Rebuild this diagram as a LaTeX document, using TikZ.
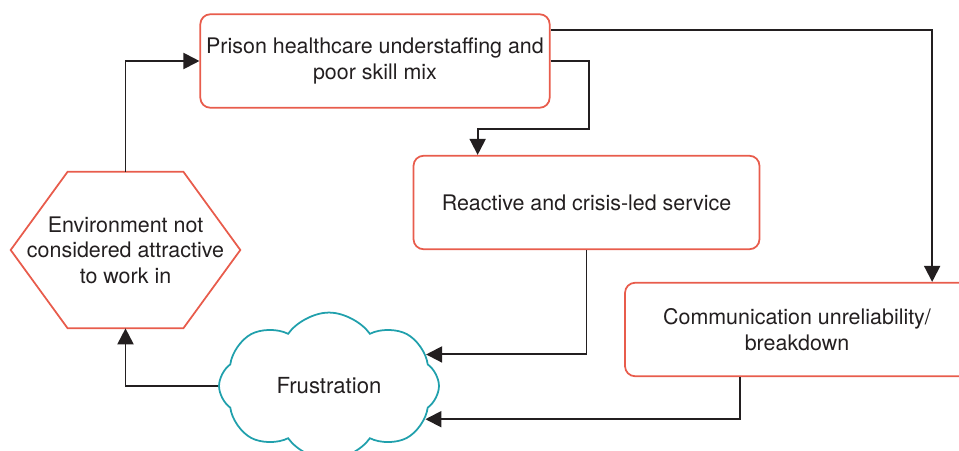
\documentclass[tikz,border=0pt]{standalone}
\usepackage{fontspec}
\setmainfont{TeX Gyre Heros}
\usepackage{xcolor}
\definecolor{r}{RGB}{232,92,76}
\definecolor{t}{RGB}{32,160,172}
\definecolor{k}{RGB}{35,31,32}
\usepackage{tikz}
\usetikzlibrary{arrows.meta, positioning, calc, shapes.symbols}
\tikzstyle{block} = [draw=r, line width=1pt, rectangle, rounded corners=0.2cm, minimum height=1.87cm, minimum width=6.92cm, align=center, font=\fontsize{12.2}{14.5}\selectfont, text=k]
\tikzstyle{arr} = [draw=k, line width=1.1pt, -{Triangle[length=0.32cm, width=0.32cm]}]

\begin{document}
\begin{tikzpicture}[x=0.02cm, y=-0.02cm]
    \useasboundingbox (0,0) rectangle (959,450);
    % blocks
    \node[block] (prison) at (375,61) {Prison healthcare understaffing and\\poor skill mix};
    \node[block] (react) at (586.5,202.5) {Reactive and crisis-led service};
    \node[block, minimum width=6.88cm] (comm) at (797,329.5) {Communication unreliability/\\breakdown};
    
    % hexagon
    \node[align=center, font=\fontsize{12.2}{14.5}\selectfont, text=k, minimum width=4.58cm, minimum height=3.12cm] (env) at (125.5,250)
    {Environment not\\considered attractive\\to work in};
    \draw[r, line width=1pt]
    (env.west) -- ($(env.north west)+(57,0)$) -- ($(env.north east)+(-57,0)$)
    -- (env.east) -- ($(env.south east)+(-57,0)$) -- ($(env.south west)+(57,0)$) -- cycle;
    
    % cloud
    \node[cloud, draw=t, line width=1pt, cloud puffs=8, cloud puff arc=110, aspect=1.5, minimum width=4.4cm, minimum height=2.94cm, font=\fontsize{12.6}{14.5}\selectfont, text=k] (frus) at (329,386) {Frustration};
    
    % arrows
    \draw[arr] (env.north) |- (prison.west);
    \draw[arr] (prison.east) -- ++(38,0) |- ($(react.north west)+(65,-26)$) -- ($(react.north west)+(65,0)$);
    \draw[arr] ($(prison.east)+(0,-31)$) -| ($(comm.north west)+(308,0)$);
    \draw[arr] (react.south) |- (frus.18);
    \draw[arr] ($(comm.south west)+(116,0)$) |- (frus.-19);
    \draw[arr] (frus.west) -| (env.south);
\end{tikzpicture}
\end{document}
